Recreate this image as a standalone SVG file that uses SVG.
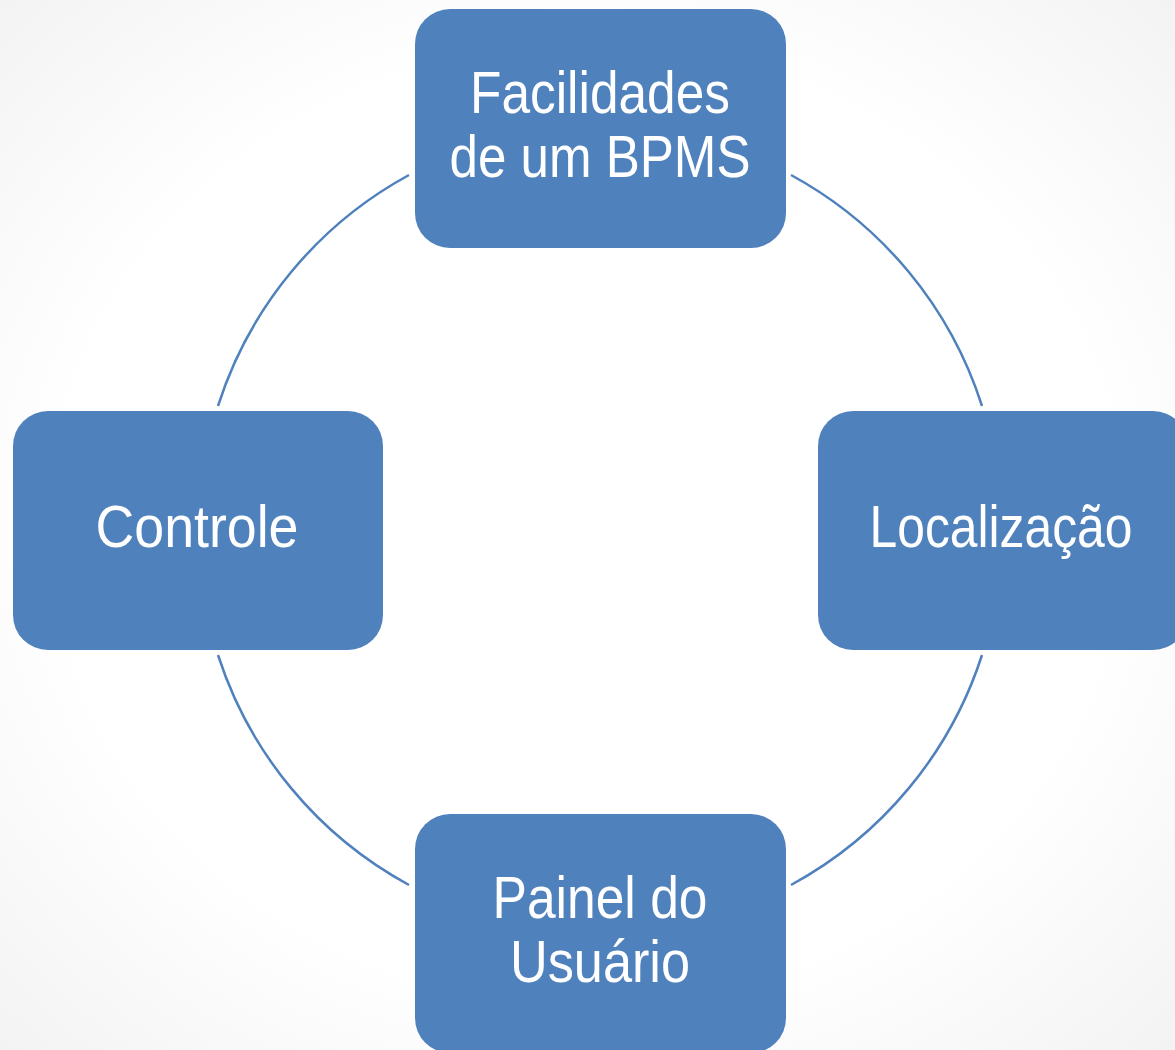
<svg xmlns="http://www.w3.org/2000/svg" width="1175" height="1050" viewBox="0 0 1175 1050">
<defs>
<radialGradient id="bg" cx="50%" cy="50%" r="75%">
<stop offset="0" stop-color="#ffffff"/>
<stop offset="0.6" stop-color="#ffffff"/>
<stop offset="1" stop-color="#f1f1f1"/>
</radialGradient>
</defs>
<style>
.box{fill:#4F81BD;}
.lbl{fill:#ffffff;font-family:"Liberation Sans",Arial,sans-serif;font-size:60px;text-anchor:middle;}
.arc{fill:none;stroke:#4F81BD;stroke-width:2.5;}
</style>
<rect x="0" y="0" width="1175" height="1050" fill="url(#bg)"/>
<g id="connectors">
<path class="arc" d="M409,175 A402,402 0 0 0 218,406"/>
<path class="arc" d="M791,175 A402,402 0 0 1 982,406"/>
<path class="arc" d="M982,655 A402,402 0 0 1 791,885"/>
<path class="arc" d="M218,655 A402,402 0 0 0 409,885"/>
</g>
<g id="node-top">
<rect class="box" x="415" y="9" width="371" height="239" rx="35"/>
<text class="lbl" x="600" y="113" textLength="260" lengthAdjust="spacingAndGlyphs">Facilidades</text>
<text class="lbl" x="600" y="177" textLength="301" lengthAdjust="spacingAndGlyphs">de um BPMS</text>
</g>
<g id="node-left">
<rect class="box" x="13" y="411" width="370" height="239" rx="35"/>
<text class="lbl" x="197" y="547" textLength="203" lengthAdjust="spacingAndGlyphs">Controle</text>
</g>
<g id="node-right">
<rect class="box" x="818" y="411" width="370" height="239" rx="35"/>
<text class="lbl" x="1001" y="547" textLength="263" lengthAdjust="spacingAndGlyphs">Localização</text>
</g>
<g id="node-bottom">
<rect class="box" x="415" y="814" width="371" height="239" rx="35"/>
<text class="lbl" x="600" y="918" textLength="215" lengthAdjust="spacingAndGlyphs">Painel do</text>
<text class="lbl" x="600" y="982" textLength="180" lengthAdjust="spacingAndGlyphs">Usuário</text>
</g>
</svg>
